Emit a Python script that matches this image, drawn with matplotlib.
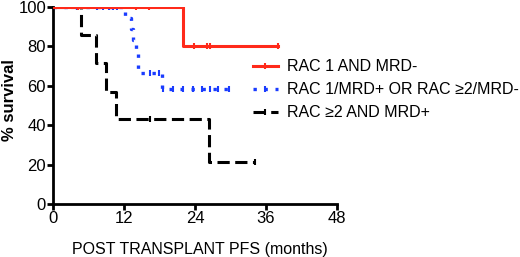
import matplotlib
matplotlib.use("Agg")
import matplotlib.pyplot as plt
from matplotlib.lines import Line2D

plt.rcParams['font.family'] = ['Liberation Sans', 'DejaVu Sans']

# Kaplan-Meier step data (time in months, survival %)
red_t = [0, 22, 38]
red_s = [100, 80, 80]
red_cens_t = [4.2, 14, 16.2, 23.8, 26, 26.5, 38]
red_cens_s = [100, 100, 100, 80, 80, 80, 80]

blue_t = [0, 12.2, 13.2, 13.6, 14.0, 14.4, 18.4, 30]
blue_s = [100, 94.4, 88.9, 83.3, 77.8, 66.7, 58.3, 58.3]
blue_cens_t = [4, 7.4, 8.5, 9.5, 10.2, 10.8, 16.4, 17.9, 18.6, 20.3, 22, 23.6, 25.2, 26.5, 27.9, 29.7]
blue_cens_s = [100, 100, 100, 100, 100, 100, 66.7, 66.7, 58.3, 58.3, 58.3, 58.3, 58.3, 58.3, 58.3, 58.3]

black_t = [0, 4.7, 7.2, 9.0, 10.6, 26.4, 34.1]
black_s = [100, 85.7, 71.4, 57.1, 42.9, 21.4, 21.4]
black_cens_t = [16.4, 34.1]
black_cens_s = [42.9, 21.4]

labels = ["RAC 1 AND MRD-", "RAC 1/MRD+ OR RAC \u22652/MRD-", "RAC \u22652 AND MRD+"]
xticks = [0, 12, 24, 36, 48]
yticks = [0, 20, 40, 60, 80, 100]

fig = plt.figure(figsize=(5.2, 2.57), dpi=100)
ax = fig.add_axes([0.102, 0.206, 0.546, 0.767])

red = "#ff2a1a"
blue = "#1a3cff"
black = "#000000"
black_ls = (0, (4, 1.8))
blue_ls = (0, (1, 2.3))

ax.step(black_t, black_s, where='post', color=black, lw=2.2, ls=black_ls, zorder=2)
ax.step(blue_t, blue_s, where='post', color=blue, lw=2.4, ls=blue_ls, zorder=3)
ax.step(red_t, red_s, where='post', color=red, lw=2.2, zorder=4)

ax.plot(black_cens_t, black_cens_s, ls='none', marker='|', color=black, ms=5, mew=1.5, zorder=2)
ax.plot(blue_cens_t, blue_cens_s, ls='none', marker='|', color=blue, ms=4, mew=1.5, zorder=3)
ax.plot(red_cens_t, red_cens_s, ls='none', marker='|', color=red, ms=5, mew=1.5, zorder=4)

ax.set_xlim(0, 48)
ax.set_ylim(0, 100)
ax.set_xticks(xticks)
ax.set_yticks(yticks)
for s in ['top', 'right']:
    ax.spines[s].set_visible(False)
for s in ['left', 'bottom']:
    ax.spines[s].set_linewidth(2)
ax.tick_params(width=2, length=4, labelsize=12, pad=1)
ax.set_ylabel("% survival", fontsize=12, fontweight='bold')
ax.yaxis.set_label_coords(-0.128, 0.528)
ax.set_xlabel("POST TRANSPLANT PFS (months)", fontsize=11.5)
ax.xaxis.set_label_coords(0.518, -0.19)

handles = [
    Line2D([0], [0], color=red, lw=2.2, marker='|', ms=5, mew=1.5, ls='-'),
    Line2D([0], [0], color=blue, lw=2.4, ls=blue_ls, marker='|', ms=4, mew=1.5),
    Line2D([0], [0], color=black, lw=2.2, ls=black_ls, marker='|', ms=5, mew=1.5),
]
fig.legend(handles, labels, loc='upper left', bbox_to_anchor=(0.458, 0.825), frameon=False,
           fontsize=11.5, handlelength=1.6, handletextpad=0.55, labelspacing=0.5)

fig.savefig("out.png", dpi=100)
